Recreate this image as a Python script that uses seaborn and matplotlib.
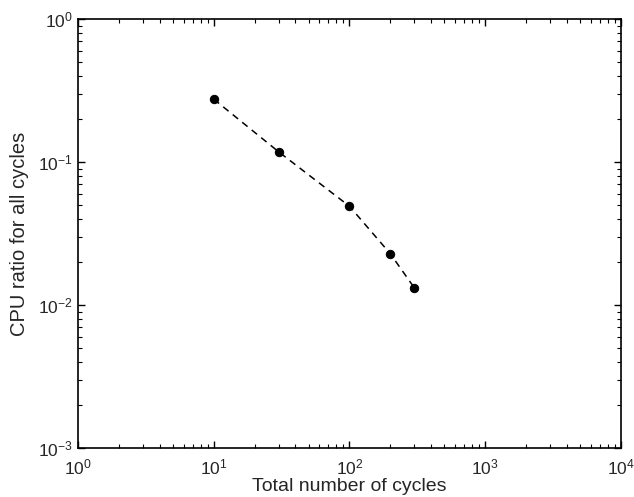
import matplotlib
matplotlib.use("Agg")
import matplotlib.pyplot as plt
import seaborn as sns
import pandas as pd
import numpy as np

cycles = [10, 30, 100, 200, 300]
cpu_ratio = [0.275, 0.118, 0.049, 0.0228, 0.0132]

sns.set_theme(style="ticks")
plt.rcParams['font.family'] = ['Liberation Sans', 'DejaVu Sans']

df = pd.DataFrame({"cycles": cycles, "ratio": cpu_ratio})

fig = plt.figure(figsize=(6.34, 4.97), dpi=100)
ax = fig.add_axes([0.123, 0.0986, 0.8565, 0.8632])
sns.lineplot(data=df, x="cycles", y="ratio", ax=ax, color="black",
             linewidth=1.1, marker="o", markersize=6,
             markeredgecolor="black", markerfacecolor="black")
ax.lines[0].set_dashes([4.5, 3.5])
ax.set_xscale("log")
ax.set_yscale("log")
ax.set_xlim(1, 1e4)
ax.set_ylim(1e-3, 1)
ax.set_xlabel("Total number of cycles", fontsize=14, labelpad=0)
ax.set_ylabel("CPU ratio for all cycles", fontsize=14.5, labelpad=7)
ax.tick_params(which="both", direction="in", top=True, right=True, labelsize=12.5, color="black")
ax.tick_params(axis="x", which="major", pad=7)
ax.tick_params(which="major", length=5, width=1)
ax.tick_params(which="minor", length=3, width=0.8)
for s in ax.spines.values():
    s.set_linewidth(1.2)
    s.set_color("black")
fig.savefig("out.png", dpi=100)
